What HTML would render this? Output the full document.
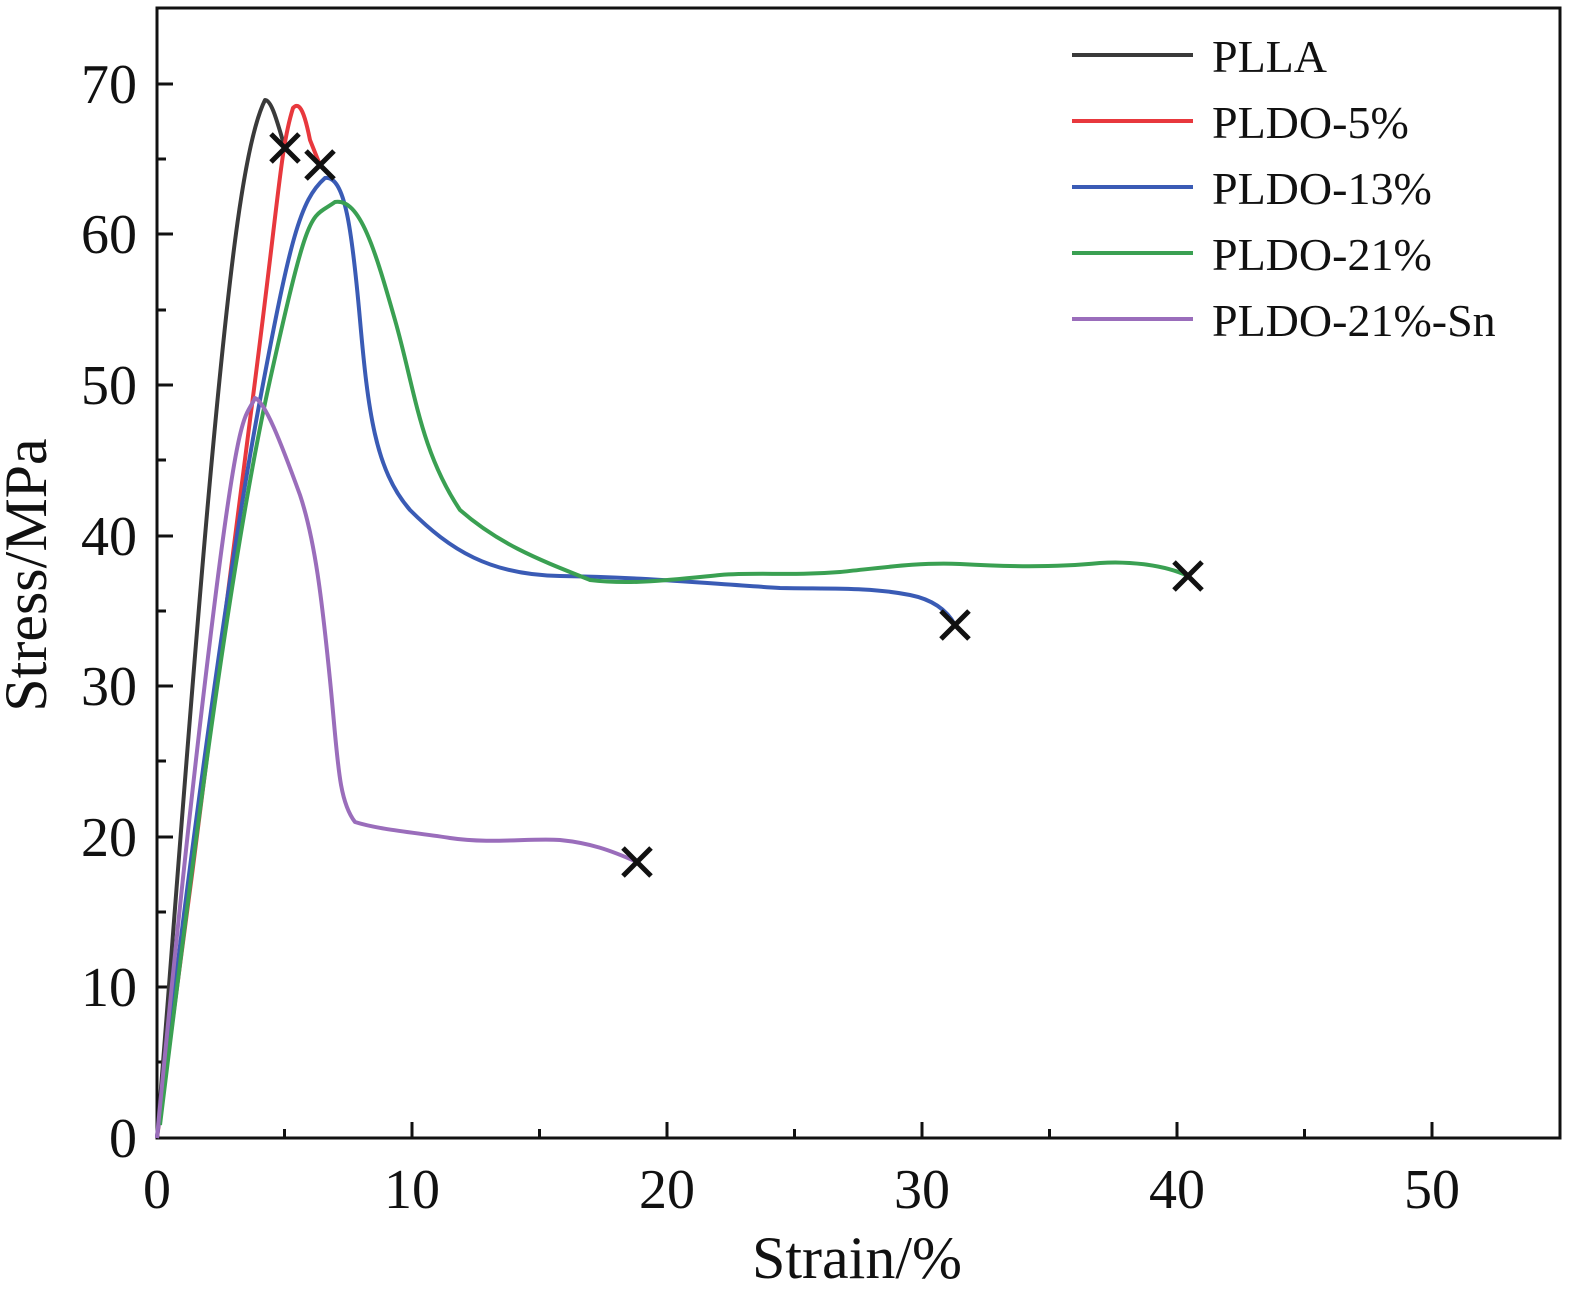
<!DOCTYPE html>
<html><head><style>body{margin:0;background:#fff}svg{display:block}</style></head><body>
<svg width="1584" height="1309" viewBox="0 0 1584 1309" xmlns="http://www.w3.org/2000/svg" font-family="Liberation Serif, serif">
<rect x="157" y="8" width="1403" height="1130" fill="none" stroke="#111" stroke-width="3"/>
<g stroke="#111" stroke-width="3">
<path d="M157 1138v-16M284.5 1138v-9M412 1138v-16M539.5 1138v-9M667 1138v-16M794.5 1138v-9M922 1138v-16M1049.5 1138v-9M1177 1138v-16M1304.5 1138v-9M1432 1138v-16"/>
<path d="M157 987h16M157 1062h9M157 837h16M157 912h9M157 686h16M157 761h9M157 536h16M157 611h9M157 385h16M157 460h9M157 234h16M157 310h9M157 84h16M157 159h9"/>
</g>
<g font-size="56" fill="#111" text-anchor="middle">
<text x="157" y="1208">0</text><text x="412" y="1208">10</text><text x="667" y="1208">20</text><text x="922" y="1208">30</text><text x="1177" y="1208">40</text><text x="1432" y="1208">50</text>
</g>
<g font-size="56" fill="#111" text-anchor="end">
<text x="137" y="1157">0</text><text x="137" y="1006">10</text><text x="137" y="856">20</text><text x="137" y="705">30</text><text x="137" y="555">40</text><text x="137" y="404">50</text><text x="137" y="253">60</text><text x="137" y="103">70</text>
</g>
<text x="857" y="1278" font-size="60" text-anchor="middle" fill="#111">Strain/%</text>
<text transform="translate(46,575) rotate(-90)" font-size="60" text-anchor="middle" fill="#111">Stress/MPa</text>
<g fill="none" stroke-width="4" stroke-linejoin="round">
<path stroke="#3a3a3a" d="M157 1138 C170 980 190 700 210 480 S245 140 265 100 C272 100 278 125 285 148"/>
<path stroke="#e8383d" d="M157 1138 C190 900 220 650 250 420 S280 150 293 108 C300 100 305 115 310 140 L320 165"/>
<path stroke="#3a5bb5" d="M157 1138 C190 850 230 560 260 400 S300 200 325 178 C345 175 352 230 360 320 S375 470 410 510 C450 550 490 575 560 576 C640 577 700 583 780 588 C830 589 870 587 910 595 C935 600 948 612 955 625"/>
<path stroke="#3aa052" d="M160 1125 C190 880 230 560 270 380 S310 220 335 202 C360 198 375 250 395 320 S420 450 460 510 C500 545 540 560 590 580 C630 585 670 580 720 575 C760 572 790 576 840 572 C880 568 920 562 960 564 C1010 567 1060 567 1100 563 C1130 561 1165 565 1188 576"/>
<path stroke="#9a6dbb" d="M157 1138 C170 1000 190 800 215 600 S245 420 255 398 C265 402 280 440 300 495 C315 540 322 600 330 680 S338 800 355 822 C380 830 420 833 450 838 C490 844 530 838 560 840 C590 843 610 850 637 862"/>
</g>
<g stroke="#111" stroke-width="5">
<path d="M271 134l28 28M299 134l-28 28"/><path d="M306 151l28 28M334 151l-28 28"/>
<path d="M941 611l28 28M969 611l-28 28"/><path d="M1174 562l28 28M1202 562l-28 28"/>
<path d="M623 848l28 28M651 848l-28 28"/>
</g>
<g stroke-width="4">
<path stroke="#3a3a3a" d="M1072 55h121"/><path stroke="#e8383d" d="M1072 121h121"/><path stroke="#3a5bb5" d="M1072 187h121"/><path stroke="#3aa052" d="M1072 253h121"/><path stroke="#9a6dbb" d="M1072 319h121"/>
</g>
<g font-size="46" fill="#111">
<text x="1212" y="72">PLLA</text><text x="1212" y="138">PLDO-5%</text><text x="1212" y="204">PLDO-13%</text><text x="1212" y="270">PLDO-21%</text><text x="1212" y="336">PLDO-21%-Sn</text>
</g>
</svg>
</body></html>
